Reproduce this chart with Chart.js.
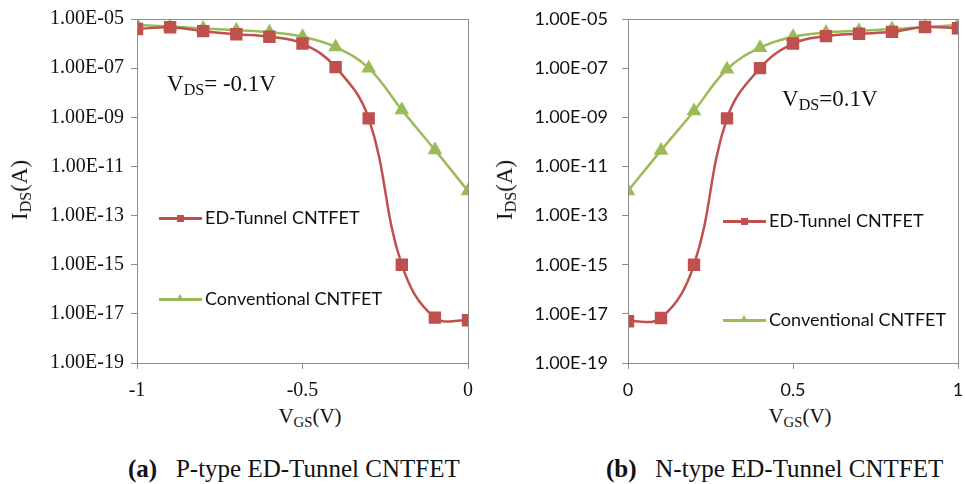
<!DOCTYPE html>
<html>
<head>
<meta charset="utf-8">
<script src="https://cdn.jsdelivr.net/npm/chart.js"></script>
<style>
    body { margin: 0; background: #fff; }
    #wrap { position: relative; width: 965px; height: 484px; overflow: hidden; }
    canvas { position: absolute; top: 0; }
    .serif { position: absolute; font-family: "Liberation Serif", "Times New Roman", serif; color: #111; white-space: nowrap; line-height: 1; }
    .serif sub { font-size: 70%; vertical-align: -0.25em; }
    .ytitle { font-size: 23px; transform: translate(-50%, -50%) rotate(-90deg); }
    .xtitle { font-size: 21px; transform: translate(-50%, -50%); }
    .vds { font-size: 23px; }
    .caption { font-size: 25px; }
    .legend { position: absolute; font-family: Lato, "Open Sans", sans-serif; font-size: 18px; color: #111; white-space: nowrap; line-height: 1; }
    .legend .ln { position: absolute; height: 3px; width: 43px; top: -1px; }
    .legend .mk { position: absolute; }
    .legend .tx { position: absolute; left: 46px; top: -10px; }
</style>
</head>
<body>
<div id="wrap">
    <canvas id="chartP" width="480" height="400" style="left:0"></canvas>
    <canvas id="chartN" width="485" height="400" style="left:480px"></canvas>

    <div class="serif ytitle" style="left:21px; top:190px">I<sub>DS</sub>(A)</div>
    <div class="serif ytitle" style="left:506px; top:190px">I<sub>DS</sub>(A)</div>
    <div class="serif xtitle" style="left:310px; top:418px">V<sub>GS</sub>(V)</div>
    <div class="serif xtitle" style="left:800px; top:418px">V<sub>GS</sub>(V)</div>

    <div class="serif vds" style="left:167px; top:72px">V<sub>DS</sub>= -0.1V</div>
    <div class="serif vds" style="left:782px; top:87px">V<sub>DS</sub>=0.1V</div>

    <div class="serif caption" style="left:128px; top:456px"><b>(a)</b>&nbsp;&nbsp; P-type ED-Tunnel CNTFET</div>
    <div class="serif caption" style="left:606px; top:456px"><b>(b)</b>&nbsp;&nbsp; N-type ED-Tunnel CNTFET</div>

    <div class="legend" style="left:159px; top:218px">
        <div class="ln" style="background:#C0504D"></div>
        <div class="mk" style="left:18px; top:-3.5px; width:7px; height:7px; background:#C0504D"></div>
        <div class="tx">ED-Tunnel CNTFET</div>
    </div>
    <div class="legend" style="left:159px; top:299px">
        <div class="ln" style="background:#9BBB59"></div>
        <div class="mk" style="left:17px; top:-5px; width:0; height:0; border-left:4.5px solid transparent; border-right:4.5px solid transparent; border-bottom:7px solid #9BBB59"></div>
        <div class="tx">Conventional CNTFET</div>
    </div>
    <div class="legend" style="left:723px; top:221px">
        <div class="ln" style="background:#C0504D"></div>
        <div class="mk" style="left:18px; top:-3.5px; width:7px; height:7px; background:#C0504D"></div>
        <div class="tx">ED-Tunnel CNTFET</div>
    </div>
    <div class="legend" style="left:723px; top:320px">
        <div class="ln" style="background:#9BBB59"></div>
        <div class="mk" style="left:17px; top:-5px; width:0; height:0; border-left:4.5px solid transparent; border-right:4.5px solid transparent; border-bottom:7px solid #9BBB59"></div>
        <div class="tx">Conventional CNTFET</div>
    </div>
</div>

<script>
// (a) P-type, VDS = -0.1V
const vgsP = [-1, -0.9, -0.8, -0.7, -0.6, -0.5, -0.4, -0.3, -0.2, -0.1, 0];
const edTunnelP = [3.9e-6, 4.6e-6, 3.2e-6, 2.4e-6, 1.9e-6, 1.0e-6, 1.1e-7, 9.0e-10, 1.0e-15, 7.0e-18, 5.5e-18];
const conventionalP = [5.7e-6, 4.9e-6, 4.1e-6, 3.5e-6, 2.9e-6, 1.9e-6, 7.2e-7, 1.0e-7, 2.0e-9, 4.7e-11, 1.0e-12];

// (b) N-type, VDS = 0.1V
const vgsN = [0, 0.1, 0.2, 0.3, 0.4, 0.5, 0.6, 0.7, 0.8, 0.9, 1];
const edTunnelN = [5.0e-18, 6.8e-18, 1.0e-15, 9.0e-10, 1.0e-7, 1.0e-6, 2.0e-6, 2.5e-6, 3.0e-6, 4.7e-6, 4.2e-6];
const conventionalN = [1.0e-12, 4.5e-11, 1.8e-9, 9.0e-8, 6.8e-7, 1.9e-6, 2.8e-6, 3.3e-6, 3.9e-6, 4.6e-6, 5.7e-6];

const yTickValues = [1e-19, 1e-17, 1e-15, 1e-13, 1e-11, 1e-9, 1e-7, 1e-5];
const yTickLabels = ["1.00E-19", "1.00E-17", "1.00E-15", "1.00E-13", "1.00E-11", "1.00E-09", "1.00E-07", "1.00E-05"];

const RED = "#C0504D";
const GREEN = "#9BBB59";
const AXIS_GRAY = "#8c8c8c";

// box around the plot area, like the Excel plot border
const frame = {
    id: "frame",
    afterDraw(chart) {
        const a = chart.chartArea;
        const ctx = chart.ctx;
        ctx.save();
        ctx.strokeStyle = AXIS_GRAY;
        ctx.lineWidth = 1;
        ctx.strokeRect(Math.round(a.left) + 0.5, Math.round(a.top) + 0.5, Math.round(a.right - a.left), Math.round(a.bottom - a.top));
        ctx.restore();
    }
};

function makePanel(id, xs, ed, conv, opts) {
    const toPts = (ys) => xs.map((x, i) => ({ x: x, y: ys[i] }));
    return new Chart(document.getElementById(id), {
        type: "line",
        data: {
            datasets: [{
                label: "ED-Tunnel CNTFET",
                data: toPts(ed),
                borderColor: RED,
                backgroundColor: RED,
                borderWidth: 2.5,
                pointStyle: "rect",
                pointRadius: 7,
                tension: 0.4
            }, {
                label: "Conventional CNTFET",
                data: toPts(conv),
                borderColor: GREEN,
                backgroundColor: GREEN,
                borderWidth: 2.5,
                pointStyle: "triangle",
                pointRadius: 6,
                tension: 0.4
            }]
        },
        options: {
            responsive: false,
            animation: false,
            layout: { autoPadding: false, padding: { top: 19, right: opts.padRight, left: 0, bottom: 0 } },
            plugins: { legend: { display: false }, tooltip: { enabled: false } },
            scales: {
                x: {
                    type: "linear",
                    min: opts.xMin,
                    max: opts.xMax,
                    afterFit: (s) => { s.height = 37; s.paddingLeft = 0; s.paddingRight = 0; },
                    grid: { drawOnChartArea: false, drawTicks: true, tickLength: 6, tickColor: AXIS_GRAY },
                    border: { display: false },
                    ticks: {
                        stepSize: 0.5, padding: 10, color: "#111", font: opts.tickFont,
                        callback: (v) => String(Math.round(v * 10) / 10)
                    }
                },
                y: {
                    type: "logarithmic",
                    min: 1e-19,
                    max: 1e-5,
                    afterFit: (s) => { s.width = opts.yWidth; s.paddingTop = 0; s.paddingBottom = 0; },
                    afterBuildTicks: (s) => { s.ticks = yTickValues.map(v => ({ value: v })); },
                    grid: { drawOnChartArea: false, drawTicks: true, tickLength: 6, tickColor: AXIS_GRAY },
                    border: { display: false },
                    ticks: {
                        padding: opts.yPad,
                        color: "#111",
                        font: opts.tickFont,
                        callback: (v) => {
                            const i = yTickValues.findIndex(t => Math.abs(Math.log10(t) - Math.log10(v)) < 1e-6);
                            return i >= 0 ? yTickLabels[i] : "";
                        }
                    }
                }
            }
        },
        plugins: [frame]
    });
}

makePanel("chartP", vgsP, edTunnelP, conventionalP, {
    xMin: -1, xMax: 0, padRight: 12, yWidth: 137, yPad: 7,
    tickFont: { family: "'Liberation Serif', 'Times New Roman', serif", size: 20 }
});
makePanel("chartN", vgsN, edTunnelN, conventionalN, {
    xMin: 0, xMax: 1, padRight: 7, yWidth: 148, yPad: 14,
    tickFont: { family: "Lato, 'Open Sans', sans-serif", size: 18 }
});
</script>
</body>
</html>
